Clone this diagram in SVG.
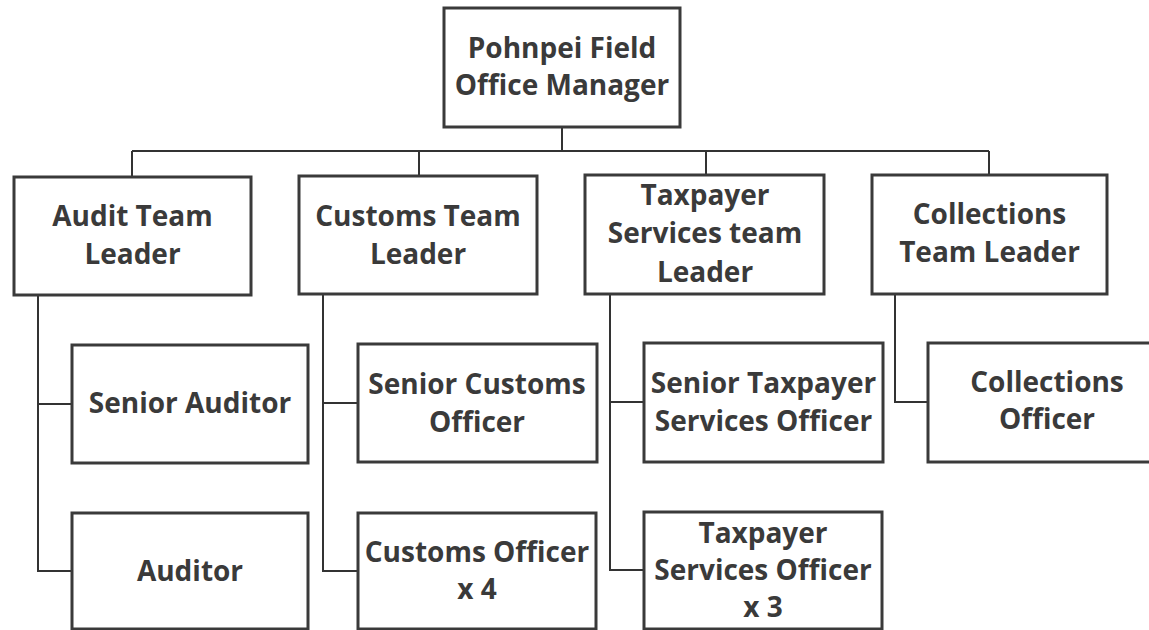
<svg xmlns="http://www.w3.org/2000/svg" width="1149" height="630" viewBox="0 0 1149 630">
<style>
.box{fill:#fff;stroke:#3a3a3a;stroke-width:3}
.ln{fill:none;stroke:#333;stroke-width:2}
text{font-family:"Open Sans","Liberation Sans",sans-serif;font-weight:bold;font-size:28px;fill:#3a3a3a;text-anchor:middle}
</style>
<rect width="1149" height="630" fill="#fff"/>
<g id="connectors">
<path class="ln" d="M562 127V151M132 151H989M132 151V176M419 151V176M706 151V176M989 151V176"/>
<path class="ln" d="M38 294V571H72M38 404H72"/>
<path class="ln" d="M323 294V571H358M323 403H358"/>
<path class="ln" d="M610 294V570H644M610 402H644"/>
<path class="ln" d="M895 294V402H928"/>
</g>
<g id="manager"><rect class="box" x="444" y="8" width="236" height="119"/><text x="562" y="58">Pohnpei Field</text><text x="562" y="95">Office Manager</text></g>
<g id="audit-leader"><rect class="box" x="14" y="177" width="237" height="118"/><text x="132.5" y="226">Audit Team</text><text x="132.5" y="264">Leader</text></g>
<g id="customs-leader"><rect class="box" x="299" y="176" width="238" height="118"/><text x="418" y="226">Customs Team</text><text x="418" y="264">Leader</text></g>
<g id="taxpayer-leader"><rect class="box" x="585" y="175" width="239" height="119"/><text x="705" y="205">Taxpayer</text><text x="705" y="243">Services team</text><text x="705" y="282">Leader</text></g>
<g id="collections-leader"><rect class="box" x="872" y="175" width="235" height="119"/><text x="989.5" y="224">Collections</text><text x="989.5" y="262">Team Leader</text></g>
<g id="senior-auditor"><rect class="box" x="72" y="345" width="236" height="118"/><text x="190" y="413">Senior Auditor</text></g>
<g id="auditor"><rect class="box" x="72" y="513" width="236" height="116"/><text x="190" y="581">Auditor</text></g>
<g id="senior-customs"><rect class="box" x="358" y="344" width="239" height="118"/><text x="477" y="394">Senior Customs</text><text x="477" y="432">Officer</text></g>
<g id="customs-officer"><rect class="box" x="358" y="513" width="238" height="116"/><text x="477" y="562">Customs Officer</text><text x="477" y="599">x 4</text></g>
<g id="senior-taxpayer"><rect class="box" x="644" y="343" width="239" height="119"/><text x="763.5" y="393">Senior Taxpayer</text><text x="763.5" y="431">Services Officer</text></g>
<g id="taxpayer-officer"><rect class="box" x="644" y="512" width="238" height="117"/><text x="763" y="543">Taxpayer</text><text x="763" y="580">Services Officer</text><text x="763" y="617">x 3</text></g>
<g id="collections-officer"><rect class="box" x="928" y="343" width="235" height="119"/><text x="1047" y="392">Collections</text><text x="1047" y="429">Officer</text></g>
</svg>
